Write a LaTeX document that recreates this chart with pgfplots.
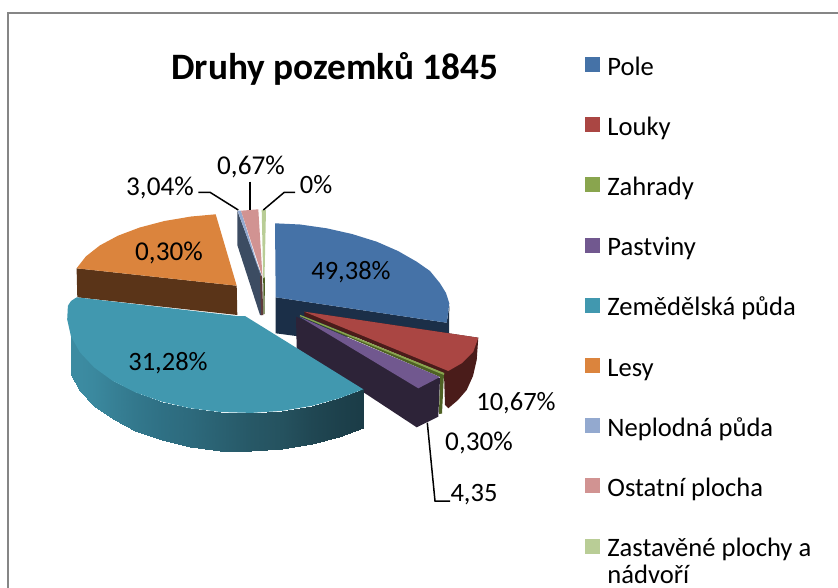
\documentclass[border=0pt]{standalone}
\usepackage{pgfplots}
\pgfplotsset{compat=1.18}
\usepackage{fontspec}
\setmainfont{Carlito}
\definecolor{cblue}{HTML}{4572A7}
\definecolor{cbluedk}{HTML}{1B2F48}
\definecolor{cred}{HTML}{AA4643}
\definecolor{creddk}{HTML}{4A1C1A}
\definecolor{cgreen}{HTML}{89A54E}
\definecolor{cgreendk}{HTML}{4E6124}
\definecolor{cpurple}{HTML}{71588F}
\definecolor{cpurpledk}{HTML}{2D2338}
\definecolor{cteal}{HTML}{4198AF}
\definecolor{corange}{HTML}{DB843D}
\definecolor{corangedk}{HTML}{5A3418}
\definecolor{cnep}{HTML}{93A9CF}
\definecolor{cnepdk}{HTML}{3C4C62}
\definecolor{cpink}{HTML}{D19392}
\definecolor{cpinkdk}{HTML}{5E3B3C}
\definecolor{clime}{HTML}{B9CD96}
\definecolor{clinegray}{HTML}{868686}
\pgfplotsset{
  colormap={tealside}{rgb255(0cm)=(27,60,71) rgb255(1cm)=(37,82,95) rgb255(2cm)=(47,112,132) rgb255(3cm)=(60,139,161)},
  face/.style={fill=#1,draw=none,forget plot},
  leader/.style={draw=black,line width=1.5pt,forget plot},
}
\begin{document}
\begin{tikzpicture}
\path[use as bounding box] (0,0) rectangle (838pt,588pt);
\begin{axis}[
  scale only axis, x=1pt, y=1pt,
  xmin=0, xmax=838, ymin=0, ymax=588, y dir=reverse,
  hide axis, clip=true,
  legend image code/.code={\fill[draw=none,#1] (0pt,-5.5pt) rectangle (15pt,9.5pt);\path (20pt,0pt);},
  legend style={at={(axis cs:585,54)},anchor=north west,draw=none,fill=none,
    font=\fontsize{26.6}{27}\selectfont,row sep=35.8pt,inner sep=0pt},
  legend cell align=left,
]
% chart frame
\addplot[draw=clinegray,line width=2pt,forget plot] coordinates {(8,600)(8,13)(850,13)};

% Lesy
\addplot[face=corangedk] coordinates {(76.6,268.3)(77.3,297.3)(237.3,315)(236.7,285.7)} --cycle;
\addplot[face=corange] coordinates {(236.7,285.7)(76.6,268.3)(85.9,256.4)(99.9,245.4)(118,235.7)(139.7,227.5)(164.4,221)(191.2,216.5)(215.7,214.3)} --cycle;

% Neplodna, Ostatni, Zastavene
\addplot[face=cnepdk] coordinates {(237.3,210.7)(237.3,245)(260,315)(262,315)(262,277)} --cycle;
\addplot[face=cpinkdk] coordinates {(260,274)(262,277)(263.3,315)(261,315)} --cycle;
\addplot[face=cnep] coordinates {(237.6,210.7)(241,210.7)(261,276)} --cycle;
\addplot[face=cpink] coordinates {(241,210.7)(258.3,209.3)(262.5,277)} --cycle;
\addplot[face=cgreendk] coordinates {(263.2,277)(265,277)(264.5,314)(263.5,314)} --cycle;
\addplot[face=clime] coordinates {(261.7,210)(266,210)(264.5,278)(263.2,278)} --cycle;

% Pole
\addplot[face=cbluedk] coordinates {(275.7,297.3)(446.7,322.7)(449.3,306)(449,334)(300,338)(296,336)(275.7,333.3)} --cycle;
\addplot[face=cblue] coordinates {(275.7,297.3)(275,223.3)(300,224.5)(326.7,228.3)(352,234)(376.7,241.7)(398,251)(416.7,261.7)(430,271)(440,283.3)(446,293)(449.3,303.3)(448,314)(446.7,322.7)} --cycle;

% Louky
\addplot[face=creddk] coordinates {(304.3,311.7)(304.3,316)(444,373.3)(445,405)(448.3,408.3)(458,400)(466.7,390)(473,376)(476.7,360)(478.3,337.7)} --cycle;
\addplot[face=cred] coordinates {(304.3,311.7)(478.3,337.7)(473.3,351.7)(461.7,363.3)(448.3,371)} --cycle;

% Zahrady
\addplot[face=cgreendk] coordinates {(299,315.7)(444,373.3)(442,413.5)(439,414)(440,377)} --cycle;
\addplot[face=cgreen] coordinates {(300,314.8)(444.3,373)(444,375)(300,316.2)} --cycle;

% Pastviny
\addplot[face=cpurpledk] coordinates {(296,316.7)(296.7,348.3)(416.7,427.3)(438.3,416.7)(440,378.3)} --cycle;
\addplot[face=cpurple] coordinates {(299.3,316.7)(440,377)(418.3,388.3)} --cycle;

% Zemedelska puda
\addplot[surf,colormap name=tealside,shader=interp,mesh/cols=13,point meta=explicit,forget plot] table[meta=c] {
x y c
70.9 336.2 3
80 352.4 3
94.1 367.4 2.9
112.7 380.9 2.6
135.4 392.4 2.3
161.5 401.6 2
190 408.2 1.8
220.2 412 1.5
251.2 412.9 1.2
282 410.9 1
311.7 405.9 0.5
339.3 398.3 0.2
363.3 389.3 0
70.9 374.7 3
80 390.9 3
94.1 405.9 2.9
112.7 419.4 2.6
135.4 430.9 2.3
161.5 440.1 2
190 446.7 1.8
220.2 450.5 1.5
251.2 451.4 1.2
282 449.4 1
311.7 444.4 0.5
339.3 436.8 0.2
362.5 427.7 0
};
\addplot[face=cteal] coordinates {(245,316)(363.3,389.3)(339.3,398.3)(311.7,405.9)(282,410.9)(251.2,412.9)(220.2,412)(190,408.2)(161.5,401.6)(135.4,392.4)(112.7,380.9)(94.1,367.4)(80,352.4)(70.9,336.2)(67.2,319.4)(67.9,305.8)(71,301)(76.7,297.3)(237,316)} --cycle;

% leader lines
\addplot[leader] coordinates {(198.3,192.3)(210,192.3)(238.3,210)};
\addplot[leader] coordinates {(250,181.7)(250,210)};
\addplot[leader] coordinates {(295,192.3)(284.3,192.3)(263.3,210)};
\addplot[leader] coordinates {(427.3,422.7)(435,501)(450,501)};

% legend
\addlegendimage{fill=cblue}\addlegendentry{\strut Pole}
\addlegendimage{fill=cred}\addlegendentry{\strut Louky}
\addlegendimage{fill=cgreen}\addlegendentry{\strut Zahrady}
\addlegendimage{fill=cpurple}\addlegendentry{\strut Pastviny}
\addlegendimage{fill=cteal}\addlegendentry{\strut Zemědělská půda}
\addlegendimage{fill=corange}\addlegendentry{\strut Lesy}
\addlegendimage{fill=cnep}\addlegendentry{\strut Neplodná půda}
\addlegendimage{fill=cpink}\addlegendentry{\strut Ostatní plocha}
\addlegendimage{fill=clime}\addlegendentry{\parbox[t]{230pt}{\strut Zastavěné plochy a\\nádvoří}}

% labels
\node[font=\fontsize{37.3}{42}\selectfont\bfseries] at (axis cs:335,69) {Druhy pozemků 1845};
\node[font=\fontsize{26.5}{30}\selectfont] at (axis cs:351,272) {49,38\%};
\node[font=\fontsize{27.2}{30}\selectfont] at (axis cs:169,253) {0,30\%};
\node[font=\fontsize{26.5}{30}\selectfont] at (axis cs:168,363) {31,28\%};
\node[font=\fontsize{26.5}{30}\selectfont] at (axis cs:516,403) {10,67\%};
\node[font=\fontsize{27.2}{30}\selectfont] at (axis cs:479,443) {0,30\%};
\node[font=\fontsize{26.5}{30}\selectfont] at (axis cs:474,495) {4,35};
\node[font=\fontsize{27.2}{30}\selectfont] at (axis cs:160,188) {3,04\%};
\node[font=\fontsize{27.2}{30}\selectfont] at (axis cs:251,167) {0,67\%};
\node[font=\fontsize{26.5}{30}\selectfont] at (axis cs:316,185) {0\%};
\end{axis}
\end{tikzpicture}
\end{document}
